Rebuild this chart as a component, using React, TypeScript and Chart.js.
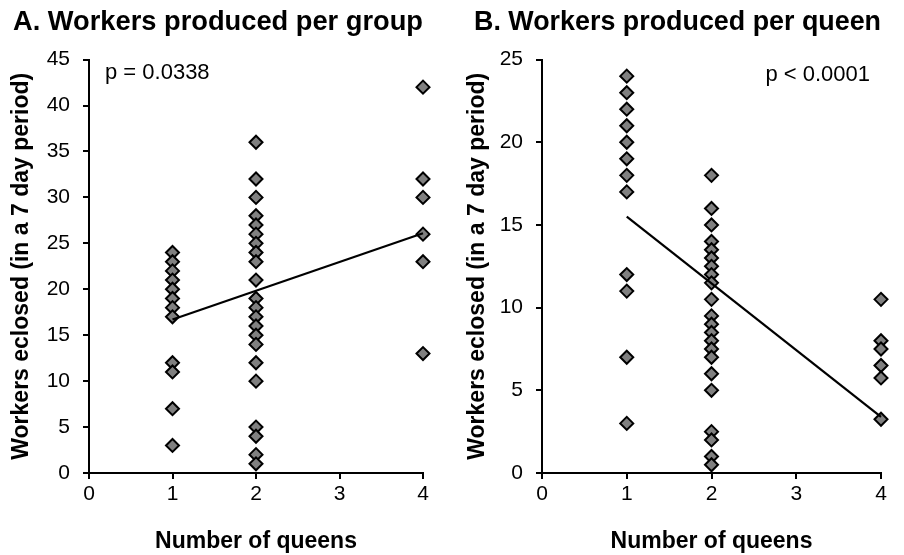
import React, { useEffect, useRef } from 'react';
import { Chart, registerables } from 'chart.js';

Chart.register(...registerables);

// ---- Data ----
const queenNumbers = [1, 2, 4];

// Panel A: workers produced per group
const groupOneQueen = [24, 23, 22, 21, 20, 19, 18, 17, 12, 11, 7, 3];
const groupTwoQueens = [36, 32, 30, 28, 27, 26, 25, 24, 23, 21, 19, 18, 17, 16, 15, 14, 12, 10, 5, 4, 2, 1];
const groupFourQueens = [42, 32, 30, 26, 23, 13];

// Panel B: workers produced per queen
const perQueenOneQueen = [24, 23, 22, 21, 20, 19, 18, 17, 12, 11, 7, 3];
const perQueenTwoQueens = [18, 16, 15, 14, 13.5, 13, 12.5, 12, 11.5, 10.5, 9.5, 9, 8.5, 8, 7.5, 7, 6, 5, 2.5, 2, 1, 0.5];
const perQueenFourQueens = [10.5, 8, 7.5, 6.5, 5.75, 3.25];

// Trend lines (endpoints at x = 1 and x = 4)
const trendX = [1, 4];
const groupTrendY = [16.7, 26.1];
const perQueenTrendY = [15.5, 3.4];

const titleA = 'A. Workers produced per group';
const titleB = 'B. Workers produced per queen';
const pValueA = 'p = 0.0338';
const pValueB = 'p < 0.0001';
const yAxisTitle = 'Workers eclosed (in a 7 day period)';
const xAxisTitle = 'Number of queens';

const FONT = "'Liberation Sans', Arial, Helvetica, sans-serif";

const pLabelPlugin = {
  id: 'pLabel',
  afterDatasetsDraw(chart: any, _args: any, opts: any) {
    if (!opts || !opts.text) return;
    const { ctx, chartArea } = chart;
    ctx.save();
    ctx.font = `${opts.size}px ${FONT}`;
    ctx.fillStyle = '#000';
    ctx.textBaseline = 'middle';
    ctx.textAlign = opts.align;
    const x = opts.align === 'left' ? chartArea.left + opts.dx : chartArea.right - opts.dx;
    ctx.fillText(opts.text, x, chartArea.top + opts.dy);
    ctx.restore();
  },
};

function toPoints(xs: number[], groups: number[][]) {
  const pts: { x: number; y: number }[] = [];
  groups.forEach((vals, i) => vals.forEach((v) => pts.push({ x: xs[i], y: v })));
  return pts;
}

function makeConfig(p: {
  title: string;
  points: { x: number; y: number }[];
  trend: number[];
  yMax: number;
  padLeft: number;
  padRight: number;
  yWidth: number;
  yTitlePad: number;
  pLabel: any;
}) {
  return {
    type: 'scatter' as const,
    data: {
      datasets: [
        {
          type: 'line' as const,
          data: trendX.map((x, i) => ({ x, y: p.trend[i] })),
          borderColor: '#000',
          borderWidth: 2.2,
          pointRadius: 0,
          fill: false,
          clip: false,
          order: 0,
        },
        {
          type: 'scatter' as const,
          data: p.points,
          pointStyle: 'rectRot',
          pointRadius: 6.5,
          pointHoverRadius: 6.5,
          pointBackgroundColor: '#808080',
          pointBorderColor: '#000',
          pointBorderWidth: 2,
          clip: false,
          order: 1,
        },
      ],
    },
    options: {
      animation: false,
      responsive: false,
      events: [],
      layout: { padding: { left: p.padLeft, right: p.padRight, top: 0, bottom: 0 } },
      plugins: {
        legend: { display: false },
        tooltip: { enabled: false },
        title: {
          display: true,
          text: p.title,
          align: 'start',
          color: '#000',
          font: { size: 28, weight: 'bold', family: FONT, lineHeight: 1.2 },
          padding: { top: 5, bottom: 21 },
        },
        pLabel: p.pLabel,
      },
      scales: {
        x: {
          type: 'linear',
          min: 0,
          max: 4,
          ticks: { stepSize: 1, color: '#000', font: { size: 21, family: FONT }, padding: 3 },
          grid: { display: true, drawOnChartArea: false, drawTicks: true, tickLength: 6, color: '#000', lineWidth: 2 },
          border: { display: true, color: '#000', width: 2 },
          title: {
            display: true,
            text: xAxisTitle,
            color: '#000',
            font: { size: 23, weight: 'bold', family: FONT, lineHeight: 1.2 },
            padding: { top: 0, bottom: 0 },
          },
          afterFit(scale: any) {
            scale.height = 82;
          },
        },
        y: {
          type: 'linear',
          min: 0,
          max: p.yMax,
          ticks: { stepSize: 5, color: '#000', font: { size: 21, family: FONT }, padding: 13 },
          grid: { display: true, drawOnChartArea: false, drawTicks: true, tickLength: 6, color: '#000', lineWidth: 2 },
          border: { display: true, color: '#000', width: 2 },
          title: {
            display: true,
            text: yAxisTitle,
            color: '#000',
            font: { size: 23, weight: 'bold', family: FONT, lineHeight: 1.2 },
            padding: { top: p.yTitlePad, bottom: 0 },
          },
          afterFit(scale: any) {
            scale.width = p.yWidth;
          },
        },
      },
    },
    plugins: [pLabelPlugin],
  };
}

function Panel(props: { left: number; config: any }) {
  const ref = useRef<HTMLCanvasElement | null>(null);
  useEffect(() => {
    if (!ref.current) return;
    const chart = new Chart(ref.current, props.config);
    return () => chart.destroy();
  }, []);
  return (
    <canvas
      ref={ref}
      width={452}
      height={555}
      style={{ position: 'absolute', left: props.left, top: 0, width: 452, height: 555 }}
    />
  );
}

export default function App() {
  const configA = makeConfig({
    title: titleA,
    points: toPoints(queenNumbers, [groupOneQueen, groupTwoQueens, groupFourQueens]),
    trend: groupTrendY,
    yMax: 45,
    padLeft: 13,
    padRight: 29,
    yWidth: 76,
    yTitlePad: -5,
    pLabel: { text: pValueA, align: 'left', dx: 16, dy: 13, size: 22 },
  });
  const configB = makeConfig({
    title: titleB,
    points: toPoints(queenNumbers, [perQueenOneQueen, perQueenTwoQueens, perQueenFourQueens]),
    trend: perQueenTrendY,
    yMax: 25,
    padLeft: 22,
    padRight: 23,
    yWidth: 68,
    yTitlePad: -10,
    pLabel: { text: pValueB, align: 'right', dx: 11, dy: 15, size: 22 },
  });
  return (
    <div style={{ position: 'absolute', left: 0, top: 0, width: 904, height: 555, background: '#fff', overflow: 'hidden' }}>
      <Panel left={0} config={configA} />
      <Panel left={452} config={configB} />
    </div>
  );
}
